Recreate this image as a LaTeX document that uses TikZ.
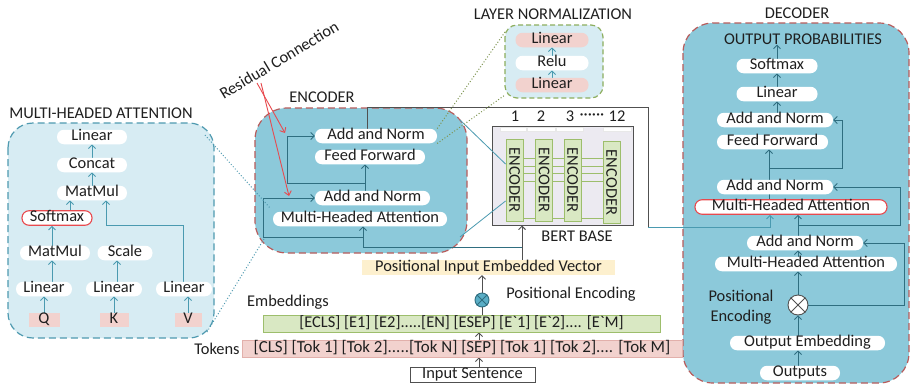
\documentclass[tikz,border=0pt]{standalone}
\usepackage{fontspec}
\newfontfamily\carl{Carlito}
\usetikzlibrary{arrows.meta,calc}
\definecolor{encfill}{HTML}{8CC9DA}
\definecolor{dashred}{HTML}{B85C5C}
\definecolor{mhafill}{HTML}{D7ECF3}
\definecolor{mhaedge}{HTML}{4F9AB0}
\definecolor{lnedge}{HTML}{8DAE5E}
\definecolor{pinkc}{HTML}{F2D2CE}
\definecolor{pinkedge}{HTML}{E2B0AB}
\definecolor{greenfill}{HTML}{D9E8C3}
\definecolor{greenedge}{HTML}{9DBE6C}
\definecolor{yellowc}{HTML}{FDF0CE}
\definecolor{linec}{HTML}{2F6E80}
\definecolor{lightline}{HTML}{4A9AB0}
\definecolor{redc}{HTML}{E84A4F}
\definecolor{bertfill}{HTML}{ECEAF1}
\definecolor{greyline}{HTML}{505050}
\definecolor{pecol}{HTML}{5AAEC6}
\definecolor{olivedot}{HTML}{7E9450}
\pgfdeclarelayer{back}
\pgfdeclarelayer{mid}
\pgfsetlayers{back,mid,main}
\tikzset{
  txt/.style={font=\carl\fontsize{16.4}{18}\selectfont, inner sep=0pt, text=black!88},
  pill/.style={txt, fill=white, rounded corners=7pt, minimum height=14.5pt, text height=10.5pt, text depth=3pt},
  pinkpill/.style={pill, fill=pinkc},
  redpill/.style={pill, draw=redc, line width=1.1pt},
  pinkbox/.style={txt, fill=pinkc, minimum height=14.5pt, text height=10.5pt, text depth=3pt},
  arr/.style={draw=linec, line width=0.9pt, -{Straight Barb[length=3.5pt,width=7pt]}},
  arrl/.style={arr, draw=lightline},
  arrk/.style={arr, draw=greyline},
  redarr/.style={draw=redc, line width=0.9pt, -{Straight Barb[length=4pt,width=7pt]}},
  ebox/.style={txt, draw=greenedge, fill=greenfill, line width=0.9pt, minimum width=82pt, minimum height=17pt, text height=10.5pt, text depth=0pt, rotate=-90},
  panel/.style={line width=1.2pt, dash pattern=on 7pt off 4pt},
}
\begin{document}
\begin{tikzpicture}[x=1pt,y=-1pt]
\path[use as bounding box] (0,0) rectangle (911,386);

% ---------- panels ----------
\begin{pgfonlayer}{back}
\fill[white] (0,0) rectangle (911,386);
\draw[panel, draw=mhaedge, fill=mhafill, rounded corners=25pt] (8,123) rectangle (214,338);
\draw[panel, draw=lnedge, fill=mhafill, rounded corners=12pt, dash pattern=on 5pt off 3pt] (505,25) rectangle (603,98);
\draw[panel, draw=dashred, fill=encfill, rounded corners=32pt] (255,108) rectangle (467,253);
\draw[panel, draw=dashred, fill=encfill, rounded corners=30pt] (683,23) rectangle (909,383);
\end{pgfonlayer}

% ---------- titles ----------
\node[txt] (tmha) at (101,113) {MULTI-HEADED ATTENTION};
\node[txt] (tln) at (553,14) {LAYER NORMALIZATION};
\node[txt] (tenc) at (322,97) {ENCODER};
\node[txt] (tdec) at (797,13) {DECODER};
\node[txt, rotate=31] (rc) at (279,60) {Residual Connection};

% ---------- multi-headed attention ----------
\node[pill, minimum width=70pt] (L3) at (92,137) {Linear};
\node[pill, minimum width=70pt] (Cc) at (92,165) {Concat};
\node[pill, minimum width=70pt] (M2) at (92,193) {MatMul};
\node[redpill, minimum width=70pt] (Sm) at (57,218) {Softmax};
\node[pill, minimum width=70pt] (M1) at (55,253) {MatMul};
\node[pill, minimum width=55pt] (Sc) at (125,253) {Scale};
\node[pill, minimum width=56pt] (LQ) at (44,289) {Linear};
\node[pill, minimum width=56pt] (LK) at (114,289) {Linear};
\node[pill, minimum width=56pt] (LV) at (184,289) {Linear};
\node[pinkbox, minimum width=31pt] (Q) at (44,320) {Q};
\node[pinkbox, minimum width=29pt] (K) at (114,320) {K};
\node[pinkbox, minimum width=27pt] (V) at (188,320) {V};

% ---------- layer normalization ----------
\node[pinkpill, minimum width=73pt] (lnA) at (552,40) {Linear};
\node[pill, minimum width=73pt] (lnR) at (552,63) {Relu};
\node[pinkpill, minimum width=73pt] (lnB) at (552,85) {Linear};

% ---------- encoder ----------
\node[pill, minimum width=122pt] (eAN1) at (376,136) {Add and Norm};
\node[pill, minimum width=110pt] (eFF) at (370,157) {Feed Forward};
\node[pill, minimum width=115pt] (eAN2) at (372.5,198) {Add and Norm};
\node[pill, minimum width=174pt] (eMHA) at (360,219) {Multi-Headed Attention};

% ---------- BERT base ----------
\begin{pgfonlayer}{back}
\node[draw=greyline, fill=bertfill, line width=1pt, minimum width=141pt, minimum height=99pt] (bert) at (562.5,175.5) {};
\end{pgfonlayer}
\begin{pgfonlayer}{mid}
\foreach \xa/\xb in {500/526,527/555,556/583,603/631}
  \draw[gray!18, fill=white, line width=0.5pt] (\xa,127.5) rectangle (\xb,131.5);
\foreach \yy in {158,166,173,181,218}
  \draw[greenedge, line width=1pt] (514,\yy) -- (612,\yy);
\end{pgfonlayer}
\node[ebox] (b1) at (514.5,180) {ENCODER};
\node[ebox] (b2) at (544,180) {ENCODER};
\node[ebox] (b3) at (572.5,180) {ENCODER};
\node[ebox] (b4) at (611.5,182.5) {ENCODER};
\node[txt] (n1) at (515,116) {1};
\node[txt] (n2) at (541,116) {2};
\node[txt] (n3) at (570,116) {3};
\node[txt, text height=10.5pt, text depth=3pt] (ndots) at (592,116) {······};
\node[txt] (n12) at (617,116) {12};
\node[txt] (bb) at (577,236) {BERT BASE};

% ---------- decoder ----------
\node[txt] (dProb) at (803,39) {OUTPUT PROBABILITIES};
\node[pill, minimum width=81pt] (dSm) at (777,66) {Softmax};
\node[pill, minimum width=81pt] (dLin) at (777,94) {Linear};
\node[pill, minimum width=116pt] (dANa) at (775,120) {Add and Norm};
\node[pill, minimum width=111pt] (dFF) at (772.5,142) {Feed Forward};
\node[pill, minimum width=116pt] (dANb) at (775,187) {Add and Norm};
\node[redpill, minimum width=192pt] (dMHAr) at (791,207) {Multi-Headed Attention};
\node[pill, minimum width=116pt] (dANc) at (805,243) {Add and Norm};
\node[pill, minimum width=182pt] (dMHA) at (806,264) {Multi-Headed Attention};
\node[circle, draw=greyline, fill=white, line width=0.9pt, minimum size=20pt] (dpe) at (798,305) {};
\draw[greyline, line width=0.9pt] (dpe.north west) -- (dpe.south east) (dpe.north east) -- (dpe.south west);
\node[txt, align=center] (dpel) at (741,307) {Positional\\[2pt]Encoding};
\node[pill, minimum width=155pt] (dEmb) at (807.5,343) {Output Embedding};
\node[pill, minimum width=80pt] (dOut) at (800,373) {Outputs};

% ---------- bottom inputs ----------
\node[txt, fill=yellowc, minimum width=253pt, minimum height=15pt, text height=10.5pt, text depth=3pt] (piev) at (488.5,267.5) {Positional Input Embedded Vector};
\node[circle, draw=linec, fill=pecol, line width=0.9pt, minimum size=14pt] (pe) at (482,300) {};
\draw[linec, line width=0.9pt] (pe.north west) -- (pe.south east) (pe.north east) -- (pe.south west);
\node[txt] (pel) at (571,294) {Positional Encoding};
\node[txt] (embl) at (288,302) {Embeddings};
\node[txt, draw=greenedge, fill=greenfill, line width=0.8pt, minimum width=397pt, minimum height=17pt, text height=10.5pt, text depth=3pt] (emb) at (461.5,323.5) {[ECLS] [E1] [E2].....[EN] [ESEP] [E\symbol{96}1] [E\symbol{96}2].... [E\symbol{96}M]};
\node[txt] (tokl) at (217,348.5) {Tokens};
\node[txt, draw=pinkedge, fill=pinkc, line width=0.8pt, minimum width=440pt, minimum height=17pt, text height=10.5pt, text depth=3pt, font=\carl\fontsize{16.9}{18}\selectfont] (tok) at (462,348.5) {[CLS] [Tok 1] [Tok 2].....[Tok N] [SEP] [Tok 1] [Tok 2].... [Tok M]};
\node[txt, draw=greyline, fill=white, line width=0.9pt, minimum width=125pt, minimum height=15pt, text height=10.5pt, text depth=3pt] (ins) at (472.5,374.5) {Input Sentence};

% ---------- connectors ----------
\begin{pgfonlayer}{mid}
% MHA panel
\draw[arrl] (Q.north) -- (LQ.south);
\draw[arrl] (K.north) -- (LK.south);
\draw[arrl] (V.north) -- (V.north |- LV.south);
\draw[arrl] (52,0 |- LQ.north) -- (52,0 |- M1.south);
\draw[arrl] (117,0 |- LK.north) -- (117,0 |- Sc.south);
\draw[arrl] (52,0 |- M1.north) -- (52,0 |- Sm.south);
\draw[arrl] (70,0 |- Sm.north) -- (70,0 |- M2.south);
\draw[arrl] (183,0 |- LV.north) -- (183,225) -- (106,225) -- (106,0 |- M2.south);
\draw[arrl] (M2.north) -- (Cc.south);
\draw[arrl] (Cc.north) -- (L3.south);
% layer norm
\draw[arrl] (lnB.north) -- (lnR.south);
\draw[arrl] (lnR.north) -- (lnA.south);
% encoder
\draw[arr] (365,0 |- eAN2.north) -- (365,0 |- eFF.south);
\draw[arr] (365,183) -- (287,183) -- (287,0 |- eAN1.west) -- (eAN1.west);
\draw[arr] (363,237) -- (263,237) -- (263,0 |- eAN2.west) -- (eAN2.west);
\draw[arrk] (522,0 |- piev.north) -- (522,0 |- bert.south);
\draw[arr] (522,247) -- (363,247) -- (363,0 |- eMHA.south);
\draw[greyline, line width=0.9pt] (367,0 |- eAN1.north) -- (367,107) -- (648,107) -- (648,227);
\draw[arr, draw=lightline] (648,227) -- (770,227) -- (770,0 |- dMHAr.south);
% encoder -> bert zoom lines
\draw[lightline, line width=0.8pt] (460,120) -- ($(b1.south)+(0,-16)$);
\draw[lightline, line width=0.8pt] (460,237) -- ($(b1.south)+(0,21)$);
% zoom dotted lines
\draw[olivedot, dotted, line width=1pt] (eAN1.north east) -- (505,32);
\draw[olivedot, dotted, line width=1pt] (eAN1.south east) -- (505,95);
\draw[mhaedge, dotted, line width=1pt] (205,135) -- (270,208);
\draw[mhaedge, dotted, line width=1pt] (207,332) -- (264,239);
% decoder
\draw[arr] (798,0 |- dOut.north) -- (798,0 |- dEmb.south);
\draw[arr] (798,0 |- dEmb.north) -- (dpe.south);
\draw[arr] (dpe.north) -- (798,0 |- dMHA.south);
\draw[arr] (dpe.east) -- (904,305) -- (904,0 |- dANc.east) -- (dANc.east);
\draw[arr] (798,0 |- dMHA.north) -- (798,0 |- dANc.south);
\draw[arr] (798,0 |- dANc.north) -- (798,0 |- dMHAr.south);
\draw[arr] (798,225) -- (900,225) -- (900,0 |- dANb.east) -- (dANb.east);
\draw[arr] (769,0 |- dMHAr.north) -- (769,0 |- dFF.south);
\draw[arr] (769,168) -- (842,168) -- (842,0 |- dANa.east) -- (dANa.east);
\draw[arr] (777,0 |- dANa.north) -- (777,0 |- dLin.south);
\draw[arr] (777,0 |- dLin.north) -- (777,0 |- dSm.south);
\draw[arr] (777,0 |- dSm.north) -- (777,0 |- dProb.south);
% bottom
\draw[arrk] (479,0 |- ins.north) -- (479,0 |- tok.south);
\draw[arrk] (479,0 |- tok.north) -- (479,0 |- emb.south);
\draw[greyline, line width=0.9pt] (482,0 |- emb.north) -- (pe.south);
\draw[arrk] (pe.north) -- (482,0 |- piev.south);
\end{pgfonlayer}

% residual connection pointers
\draw[redarr] (257,83) -- (285,133);
\draw[redarr] (261,83) -- (289,196);
\end{tikzpicture}
\end{document}
